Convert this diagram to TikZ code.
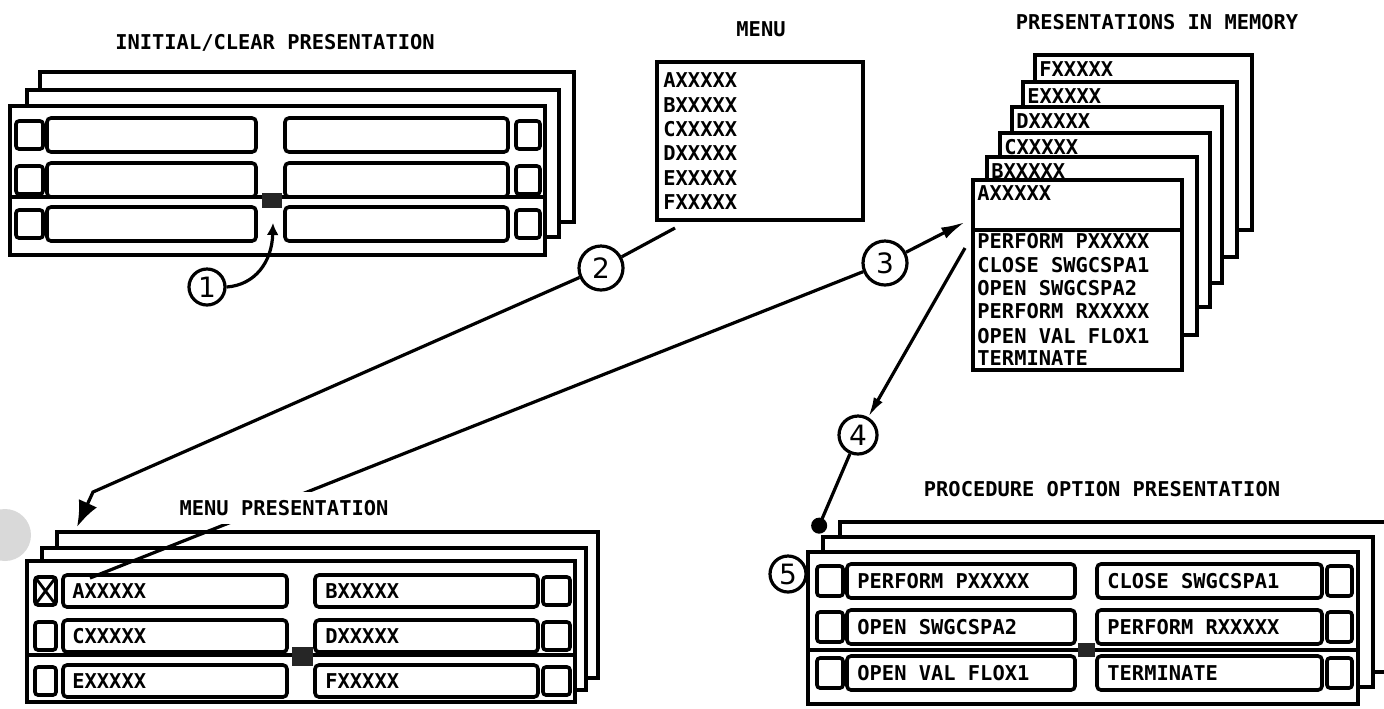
\documentclass[tikz,border=0pt]{standalone}
\usepackage{fontspec}
\setmonofont{DejaVu Sans Mono}
\setsansfont{DejaVu Sans}
\usetikzlibrary{arrows.meta}

\tikzset{
	panel/.style={draw,fill=white,line width=2pt},
	field/.style={draw,fill=white,line width=1.8pt,rounded corners=2pt},
	sqbox/.style={draw,fill=white,line width=1.8pt,rounded corners=1.5pt},
	curblock/.style={fill=black!85},
	divider/.style={line width=1.8pt},
	callout/.style={circle,draw,line width=1.6pt,inner sep=0pt,minimum size=#1,font=\sffamily\fontsize{14}{14}\selectfont},
	heading/.style={inner sep=1pt,font=\ttfamily\bfseries\fontsize{10.2}{12}\selectfont},
	entry/.style={anchor=west,inner sep=0pt,font=\ttfamily\bfseries\fontsize{10.2}{12}\selectfont},
	link/.style={line width=1.6pt},
}

\begin{document}
\begin{tikzpicture}[x=0.5pt,y=-0.5pt,>=Latex]
	\useasboundingbox (0,0) rectangle (1384,708);
	\fill[gray!30] (5,535) circle[radius=26];

	\node[heading] (tinit) at (275,43) {INITIAL/CLEAR PRESENTATION};
	\draw[panel] (40,72) rectangle (574,222);
	\draw[panel] (27,90) rectangle (559,237);
	\draw[panel] (10,106) rectangle (545,255);
	\draw[divider] (10,197) -- (545,197);
	\foreach \y in {135,180,224} {
		\draw[field] (47,\y-17) rectangle (256,\y+17);
		\draw[field] (285,\y-17) rectangle (508,\y+17);
		\draw[sqbox] (16,\y-14) rectangle (43,\y+14);
		\draw[sqbox] (516,\y-14) rectangle (540,\y+14);
	}
	\fill[curblock] (262,193) rectangle (282,208);

	\node[heading] (tmenu) at (761,29) {MENU};
	\draw[panel] (657,62) rectangle (863,220);
	\foreach \l/\y in {A/80,B/105,C/129,D/153,E/178,F/202}
		\node[entry] (menu\l) at (663,\y) {\l XXXXX};

	\node[heading] (tmem) at (1157,22) {PRESENTATIONS IN MEMORY};
	\foreach \l/\x/\y/\r/\b in {F/1035/55/1252/230,E/1023/82/1237/257,D/1012/107/1222/283,C/1000/133/1210/307,B/987/157/1197/335} {
		\draw[panel] (\x,\y) rectangle (\r,\b);
		\node[entry] (mem\l) at (\x+4,\y+14) {\l XXXXX};
	}
	\draw[panel] (973,180) rectangle (1182,370);
	\node[entry] (memA) at (977,193) {AXXXXX};
	\draw[divider] (973,230) -- (1182,230);
	\foreach \y/\t [count=\i] in {241/PERFORM PXXXXX,265/CLOSE SWGCSPA1,288/OPEN SWGCSPA2,311/PERFORM RXXXXX,336/OPEN VAL FLOX1,358/TERMINATE}
		\node[entry] (step\i) at (977,\y) {\t};

	\draw[panel] (57,532) rectangle (598,678);
	\draw[panel] (42,548) rectangle (586,690);
	\draw[panel] (27,561) rectangle (575,702);
	\draw[divider] (27,655) -- (575,655);
	\foreach \y/\a/\b in {591/A/B,636/C/D,681/E/F} {
		\draw[field] (63,\y-16) rectangle (287,\y+16);
		\draw[field] (315,\y-16) rectangle (538,\y+16);
		\draw[sqbox] (35,\y-14) rectangle (56,\y+14);
		\draw[sqbox] (543,\y-14) rectangle (570,\y+14);
		\node[entry] (mp\a) at (72,\y) {\a XXXXX};
		\node[entry] (mp\b) at (325,\y) {\b XXXXX};
	}
	\draw[line width=1.4pt] (35,577) -- (56,605) (35,605) -- (56,577);
	\fill[curblock] (292,647) rectangle (313,666);

	\node[heading] (tproc) at (1102,489) {PROCEDURE OPTION PRESENTATION};
	\draw[panel] (840,522) rectangle (1400,672);
	\draw[panel] (823,537) rectangle (1373,687);
	\draw[panel] (808,552) rectangle (1358,704);
	\draw[divider] (808,650) -- (1358,650);
	\foreach \y/\a/\b [count=\i] in {581/PERFORM PXXXXX/CLOSE SWGCSPA1,627/OPEN SWGCSPA2/PERFORM RXXXXX,673/OPEN VAL FLOX1/TERMINATE} {
		\draw[field] (847,\y-17) rectangle (1075,\y+17);
		\draw[field] (1097,\y-17) rectangle (1322,\y+17);
		\draw[sqbox] (817,\y-15) rectangle (843,\y+15);
		\draw[sqbox] (1327,\y-15) rectangle (1352,\y+15);
		\node[entry] (poL\i) at (857,\y) {\a};
		\node[entry] (poR\i) at (1107,\y) {\b};
	}
	\fill[curblock] (1078,643) rectangle (1095,657);

	\node[callout=18pt] (c1) at (207,287) {1};
	\node[callout=22pt] (c2) at (601,268) {2};
	\node[callout=22pt] (c3) at (885,263) {3};
	\node[callout=19pt] (c4) at (858,435) {4};
	\node[callout=18pt] (c5) at (788,574) {5};

	\coordinate (cur1) at (273,223);
	\coordinate (m2a) at (675,228);
	\coordinate (m2b) at (93,492);
	\coordinate (m2c) at (77,527);
	\coordinate (m3a) at (90,578);
	\coordinate (m3b) at (965,222);
	\coordinate (m4a) at (965,248);
	\coordinate (m4b) at (816,533);

	\draw[link,-{Latex[length=6pt,width=6pt]}] (c1.east) .. controls (255,285) and (272,262) .. (cur1);
	\draw[link,-{Latex[length=13pt,width=10pt]}] (m2a) -- (c2) -- (m2b) -- (m2c);
	\draw[link,-{Latex[length=12pt,width=6pt]}] (m3a) -- (c3) -- (m3b);
	\draw[link,-{Latex[length=10pt,width=5pt]}] (m4a) -- (c4);
	\draw[link,-{Circle[length=8pt]}] (c4) -- (m4b);

	\node[heading,fill=white,inner sep=4pt] (tmp) at (284,508) {MENU PRESENTATION};
\end{tikzpicture}
\end{document}
